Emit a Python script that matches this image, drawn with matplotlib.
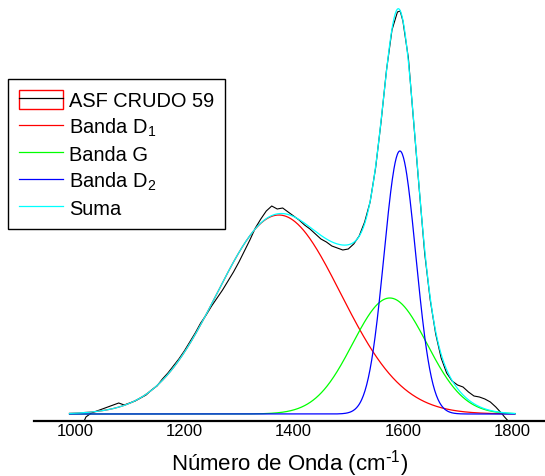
import numpy as np
import matplotlib
matplotlib.use("Agg")
import matplotlib.pyplot as plt
from matplotlib.patches import Rectangle
from matplotlib.lines import Line2D
from matplotlib.legend_handler import HandlerTuple

plt.rcParams['font.family'] = ['Liberation Sans', 'DejaVu Sans']
plt.rcParams['mathtext.default'] = 'regular'

# espectro Raman medido (intensidad en u.a.)
wn_data = [1016, 1020, 1030, 1040, 1050, 1060, 1070, 1080, 1090, 1100,
           1110, 1120, 1130, 1140, 1150, 1160, 1170, 1180, 1190, 1200,
           1210, 1220, 1230, 1240, 1250, 1260, 1270, 1280, 1290, 1300,
           1310, 1320, 1330, 1340, 1350, 1360, 1370, 1380, 1390, 1400,
           1410, 1420, 1430, 1440, 1450, 1460, 1470, 1480, 1490, 1500,
           1510, 1520, 1530, 1540, 1550, 1560, 1570, 1580, 1590, 1595,
           1600, 1610, 1620, 1630, 1640, 1650, 1660, 1670, 1680, 1690,
           1700, 1710, 1720, 1730, 1740, 1750, 1760, 1770, 1780, 1786,
           1796]
intensity = [-8, -3, 1, 3, 5, 7, 9, 11, 9, 11,
             13, 16, 19, 24, 28, 35, 41, 48, 55, 63,
             72, 81, 91, 99, 108, 116, 124, 133, 142, 152,
             163, 174, 186, 195, 203, 208, 205, 206, 202, 198,
             194, 189, 185, 180, 175, 172, 168, 166, 164, 165,
             170, 178, 192, 212, 246, 292, 344, 384, 402, 403,
             393, 356, 290, 224, 160, 114, 80, 56, 41, 33,
             29, 27, 22, 18, 17, 15, 12, 7, 1, -3,
             -9]

# parámetros de las bandas ajustadas (gaussianas)
band_names = ['Banda D$_1$', 'Banda G', 'Banda D$_2$']
band_centers = [1373, 1576, 1594.5]
band_heights = [199, 116, 263]
band_sigmas = [113, 68, 29]
band_colors = ['#ff0000', '#00ff00', '#0000ff']

x_fit = np.linspace(990, 1805, 800)
bands = [h * np.exp(-(x_fit - c) ** 2 / (2 * s ** 2))
         for c, h, s in zip(band_centers, band_heights, band_sigmas)]
suma = np.sum(bands, axis=0)

fig = plt.figure(figsize=(5.45, 4.77), dpi=100)
ax = fig.add_axes([34 / 545, 55.5 / 477, (545 - 34) / 545, (477 - 55.5 - 5) / 477])

ax.plot(wn_data, intensity, color='black', lw=0.8)
for y, col in zip(bands, band_colors):
    ax.plot(x_fit, y, color=col, lw=0.9)
ax.plot(x_fit, suma, color='#00ffff', lw=0.9)

ax.set_xlim(925, 1860)
ax.set_ylim(-6.5, 410)
for side in ['top', 'right', 'left']:
    ax.spines[side].set_visible(False)
ax.spines['bottom'].set_linewidth(1.6)
ax.set_yticks([])
ax.set_xticks([1000, 1200, 1400, 1600, 1800])
ax.tick_params(axis='x', length=0, pad=2, labelsize=12)
ax.set_xlabel(r'Número de Onda (cm$^{\text{-}1}$)', fontsize=16, labelpad=6)

# leyenda
h_data = (Rectangle((0, 0), 1, 1, facecolor='white', edgecolor='red', lw=1),
          Line2D([], [], color='black', lw=0.9))
handles = [h_data] + [Line2D([], [], color=c, lw=0.9) for c in band_colors] \
    + [Line2D([], [], color='#00ffff', lw=0.9)]
labels = ['ASF CRUDO 59'] + band_names + ['Suma']
leg = ax.legend(handles, labels, loc='upper left',
                bbox_to_anchor=(8 / 545, 1 - 80 / 477), bbox_transform=fig.transFigure,
                borderaxespad=0, fontsize=14.4, handlelength=2.2, handleheight=1.1,
                handletextpad=0.3, labelspacing=0.28, borderpad=0.55,
                fancybox=False, framealpha=1, edgecolor='black',
                handler_map={tuple: HandlerTuple(ndivide=1, pad=0)})
leg.get_frame().set_linewidth(1.0)

fig.savefig('out.png', dpi=100)
